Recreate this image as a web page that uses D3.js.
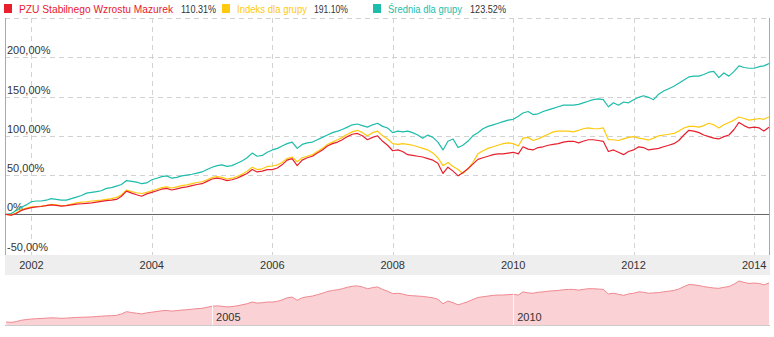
<!DOCTYPE html>
<html><head><meta charset="utf-8">
<script src="https://cdn.jsdelivr.net/npm/d3@7"></script>
<style>body{margin:0;background:#fff}svg{display:block;font-family:Arial,"Liberation Sans",sans-serif}</style>
</head><body><svg id="c" width="774" height="337"></svg>
<script>
// ---- data (monthly, starting Aug 2001) ----
const startYear = 2001, startMonthIndex = 7; // August 2001
const fundValues = [ // PZU Stabilnego Wzrostu Mazurek
  0, -1, 1, 5, 7,
  8.5, 9.5, 10, 11, 12, 11.5, 10.5, 11, 12, 13, 13.5, 14,
  14.5, 15.5, 16.5, 17.5, 18, 19, 23, 29.5, 27, 25, 23, 26,
  28, 30, 32, 33, 31, 32.5, 34, 35, 36.5, 38, 39, 42,
  45, 46, 45, 43, 44, 46, 49, 52, 57, 54, 55, 57,
  57, 59, 63, 69, 71, 62, 69, 72, 74, 78, 82, 87,
  90, 92, 95, 99, 102, 103, 100, 95, 98, 100, 93, 88,
  81, 82, 80, 76, 75, 74, 73, 71, 69, 65, 52, 60,
  55, 49, 53, 58, 64, 70, 72, 74, 76, 77, 77, 78,
  79, 77, 86, 83, 82, 85, 86, 88, 89, 90, 92, 93,
  93, 91, 93, 95, 95, 94, 93, 80, 82, 79, 76, 80,
  82, 86, 85, 82, 83, 84, 86, 88, 90, 94, 101, 107,
  106, 104, 101, 99, 97, 96, 99, 101, 108, 117, 113, 110,
  111, 110, 106, 111
];
const indexValues = [ // Indeks dla grupy
  0, -1, 2, 6, 8,
  9.5, 10, 10.5, 11.5, 12.7, 12, 11, 11.5, 13, 14.5, 15.5, 16,
  17, 17.5, 18, 19, 20, 21.5, 25, 31, 29, 27.5, 26.5, 28,
  30, 32, 34, 35, 33.5, 35, 36.5, 37.5, 39, 40.5, 41.5, 44,
  47, 48, 47, 45, 46, 48, 51, 55, 60, 57, 58, 61,
  61.5, 63, 66, 71, 73, 67, 72, 74, 76, 80, 84, 89,
  92, 95, 98, 102, 105, 107, 104, 100, 104, 106, 100, 96,
  90, 89, 90, 89, 88, 86, 84, 82, 78, 72, 62, 66,
  61, 57, 52, 58, 66, 77, 81, 84, 86, 88, 90, 91,
  90, 87, 97, 98, 94, 96, 99, 102, 105, 106, 106, 106,
  105, 107, 109, 110, 109, 109, 110, 95, 95, 94, 96, 98,
  99, 97, 96, 94.6, 97, 100, 101, 102, 103, 106, 110, 112,
  112, 111, 113, 116, 114, 110, 114, 117, 120, 124, 122, 120,
  121, 122, 121, 124
];
const groupValues = [ // Średnia dla grupy
  0, 1, 5, 9, 12,
  16, 17, 17, 18, 20, 19, 18, 18, 20, 22, 24, 27,
  28, 29, 30, 33, 34, 36, 38, 43, 42, 41, 39, 40,
  44, 46, 48, 49, 46, 47, 49, 50, 51, 52.5, 54, 57,
  60, 62, 63, 61, 62, 65, 68, 72, 78, 74, 75, 79,
  82, 84, 87, 90, 92, 84, 89, 91, 92, 95, 98, 101,
  104, 106, 108, 111, 114, 115, 113, 111, 114, 116, 112, 110,
  104, 106, 105, 106, 104, 101, 97, 101, 98, 92, 82, 93,
  96, 85, 88, 93, 100, 104, 109, 112, 114, 116, 118, 120,
  121, 125, 129, 131, 127, 128, 131, 133, 135, 137, 139, 139,
  139, 140, 142, 144, 146, 147, 146, 137, 142, 139, 143, 142,
  146, 149, 151, 149, 146, 153, 157, 160, 163, 167, 171, 175,
  176, 176, 178, 181, 182, 174, 180, 176, 182, 189, 187, 186,
  186, 188, 189, 192
];
const seriesNames = ["PZU Stabilnego Wzrostu Mazurek", "Indeks dla grupy", "Średnia dla grupy"];
const legendValues = ["110.31%", "191.10%", "123.52%"];
const seriesColors = ["#e8202e", "#ffc90e", "#1dbcab"];
const yTicks = [-50, 0, 50, 100, 150, 200, 250];
const yTickLabels = ["-50,00%", "0%", "50,00%", "100,00%", "150,00%", "200,00%", ""];
const xTickYears = [2002, 2004, 2006, 2008, 2010, 2012, 2014];
const navTickYears = [2005, 2010];

// ---- layout ----
const svg = d3.select("#c");
const L = 5, R = 769, T = 18, B = 255;
const dates = fundValues.map((_, i) => new Date(startYear, startMonthIndex + i, 1));
const x = d3.scaleTime().domain([new Date(2001, 6, 25), new Date(2014, 3, 1)]).range([L, R]);
const y = d3.scaleLinear().domain([-50, 250]).range([253.6, T]);

const defs = svg.append("defs");
defs.append("clipPath").attr("id", "plotclip").append("rect")
  .attr("x", L).attr("y", T).attr("width", R - L).attr("height", B - T);

// gridlines
const grid = svg.append("g");
grid.selectAll("line.h").data(yTicks.filter(v => v > -50 && v !== 0)).join("line")
  .attr("x1", L).attr("x2", R)
  .attr("y1", d => Math.round(y(d)) + 0.5).attr("y2", d => Math.round(y(d)) + 0.5)
  .attr("stroke", "#d2d2d2").attr("stroke-dasharray", "5,4");
grid.selectAll("line.v").data(xTickYears).join("line")
  .attr("x1", d => Math.round(x(new Date(d, 0, 1))) + 0.5).attr("x2", d => Math.round(x(new Date(d, 0, 1))) + 0.5)
  .attr("y1", T).attr("y2", B)
  .attr("stroke", "#d2d2d2").attr("stroke-dasharray", "5,4");

// borders
svg.append("line").attr("x1", L + 0.5).attr("x2", L + 0.5).attr("y1", T).attr("y2", B).attr("stroke", "#aaa");
svg.append("line").attr("x1", R + 0.5).attr("x2", R + 0.5).attr("y1", T).attr("y2", B).attr("stroke", "#aaa");

// zero line
svg.append("line").attr("x1", L).attr("x2", R)
  .attr("y1", Math.round(y(0)) + 0.5).attr("y2", Math.round(y(0)) + 0.5)
  .attr("stroke", "#666");

// y labels
svg.append("g").selectAll("text").data(yTicks.filter((v, i) => yTickLabels[i] !== "")).join("text")
  .attr("x", 7).attr("y", d => y(d) - 3)
  .attr("font-size", 11).attr("fill", "#333")
  .text(d => yTickLabels[yTicks.indexOf(d)]);

// series lines
const line = d3.line().x((d, i) => x(dates[i])).y(d => y(d));
const plot = svg.append("g").attr("clip-path", "url(#plotclip)");
[[groupValues, 2], [indexValues, 1], [fundValues, 0]].forEach(([vals, ci]) => {
  plot.append("path").datum(vals).attr("d", line)
    .attr("fill", "none").attr("stroke", seriesColors[ci]).attr("stroke-width", 1.2)
    .attr("stroke-linejoin", "round");
});

// x axis band
svg.append("rect").attr("x", L).attr("y", B).attr("width", R - L + 1).attr("height", 20).attr("fill", "#eeeeee");
svg.append("g").selectAll("text").data(xTickYears).join("text")
  .attr("x", d => x(new Date(d, 0, 1))).attr("y", 269)
  .attr("text-anchor", "middle").attr("font-size", 11).attr("fill", "#333")
  .text(d => d);

// navigator
const navY = d3.scaleLinear().domain([0, 117]).range([322, 281]);
const navBottom = 325;
const area = d3.area().x((d, i) => x(dates[i])).y0(navBottom).y1(d => navY(d));
const navLine = d3.line().x((d, i) => x(dates[i])).y(d => navY(d));
svg.append("path").datum(fundValues).attr("d", area).attr("fill", "#fad2d5");
svg.append("path").datum(fundValues).attr("d", navLine).attr("fill", "none").attr("stroke", "#f08890").attr("stroke-width", 1);
svg.append("g").selectAll("line").data(navTickYears).join("line")
  .attr("x1", d => Math.round(x(new Date(d, 0, 1))) + 0.5).attr("x2", d => Math.round(x(new Date(d, 0, 1))) + 0.5)
  .attr("y1", 276).attr("y2", navBottom).attr("stroke", "#fff").attr("stroke-opacity", 0.8);
svg.append("g").selectAll("text").data(navTickYears).join("text")
  .attr("x", d => x(new Date(d, 0, 1)) + 4).attr("y", 321)
  .attr("font-size", 11).attr("fill", "#333").text(d => d);
svg.append("line").attr("x1", L).attr("x2", R + 1).attr("y1", navBottom + 0.5).attr("y2", navBottom + 0.5).attr("stroke", "#ccc");

// legend
const legendX = [4, 222, 373];
const nameWidth = [154, 70, 74];
const valueX = [181, 314, 470];
const valueWidth = [35, 34, 36];
const lg = svg.append("g");
seriesNames.forEach((name, i) => {
  lg.append("rect").attr("x", legendX[i]).attr("y", 4).attr("width", 8).attr("height", 9).attr("fill", seriesColors[i]);
  lg.append("text").attr("x", legendX[i] + 15).attr("y", 13).attr("font-size", 11).attr("fill", seriesColors[i])
    .attr("textLength", nameWidth[i]).attr("lengthAdjust", "spacingAndGlyphs").text(name);
  lg.append("text").attr("x", valueX[i]).attr("y", 13).attr("font-size", 11).attr("fill", "#333")
    .attr("textLength", valueWidth[i]).attr("lengthAdjust", "spacingAndGlyphs").text(legendValues[i]);
});
</script></body></html>
